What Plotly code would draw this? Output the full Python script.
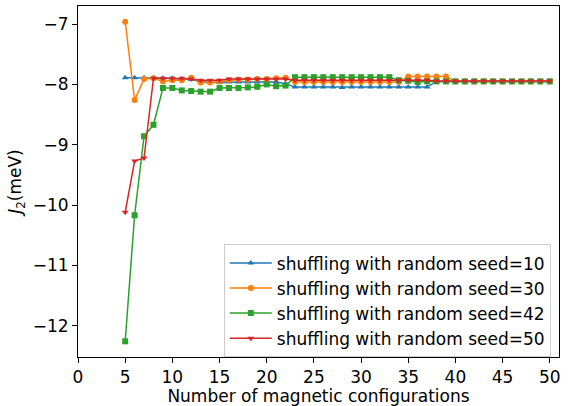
import plotly.graph_objects as go

x = list(range(5, 51))

seed10 = ([-7.89, -7.89, -7.89, -7.89, -7.90, -7.90, -7.91, -7.92, -7.95, -7.97,
           -7.97, -7.96, -7.96, -7.96, -7.96, -7.96, -7.96, -7.99]
          + [-8.045, -8.045, -8.045, -8.045, -8.045, -8.05, -8.045, -8.045, -8.045,
             -8.045, -8.045, -8.045, -8.045, -8.045, -8.045]
          + [-7.95] * 13)

seed30 = ([-6.96, -8.26, -7.91, -7.90, -7.95, -7.93, -7.93, -7.89, -7.97, -7.97,
           -7.95, -7.93, -7.92, -7.92, -7.91, -7.91, -7.90, -7.89]
          + [-7.96] * 12
          + [-7.87, -7.87, -7.87, -7.87, -7.87]
          + [-7.95] * 11)

seed42 = ([-12.26, -10.17, -8.86, -8.67, -8.06, -8.06, -8.10, -8.11, -8.12, -8.12,
           -8.06, -8.06, -8.06, -8.05, -8.04, -8.00, -8.03, -8.02]
          + [-7.88] * 11
          + [-7.93, -7.94, -7.96, -7.95]
          + [-7.95] * 13)

seed50 = ([-10.12, -9.27, -9.22, -7.90, -7.90, -7.90, -7.90, -7.91, -7.93, -7.93,
           -7.93, -7.91, -7.91, -7.91, -7.91, -7.91, -7.91, -7.91]
          + [-7.93] * 15
          + [-7.945] * 13)

names = ["shuffling with random seed=10", "shuffling with random seed=30",
         "shuffling with random seed=42", "shuffling with random seed=50"]
series = [seed10, seed30, seed42, seed50]
colors = ["#1f77b4", "#ff7f0e", "#2ca02c", "#d62728"]
symbols = ["triangle-up", "circle", "square", "triangle-down"]

xticks = list(range(0, 51, 5))
yticks = [-12, -11, -10, -9, -8, -7]

fig = go.Figure()
for name, ys, c, s in zip(names, series, colors, symbols):
    fig.add_trace(go.Scatter(
        x=x, y=ys, name=name, mode="lines+markers",
        line=dict(color=c, width=1.5),
        marker=dict(symbol=s, size=6, color=c),
    ))

font = dict(family="DejaVu Sans", size=17, color="black")
fig.update_layout(
    width=569, height=406,
    margin=dict(l=78, r=10, t=5, b=43),
    paper_bgcolor="white", plot_bgcolor="white",
    font=font,
    showlegend=True,
    legend=dict(
        x=0.983, y=0.321, xanchor="right", yanchor="top",
        bgcolor="rgba(255,255,255,0.8)", bordercolor="#cccccc", borderwidth=1,
        font=font, tracegroupgap=0, itemwidth=42,
    ),
    xaxis=dict(
        range=[0, 50.98], tickvals=xticks, ticktext=[str(v) for v in xticks],
        showgrid=False, zeroline=False, showline=True, linecolor="black",
        linewidth=1, mirror=True, ticks="outside", ticklen=5, tickcolor="black",
        title=dict(text="Number of magnetic configurations", standoff=2, font=font),
        tickfont=font,
    ),
    yaxis=dict(
        range=[-12.52, -6.70], tickvals=yticks,
        ticktext=["\u2212" + str(abs(v)) for v in yticks],
        showgrid=False, zeroline=False, showline=True, linecolor="black",
        linewidth=1, mirror=True, ticks="outside", ticklen=5, tickcolor="black",
        title=dict(text="<i>J</i><sub>2</sub>(meV)", standoff=6, font=font),
        tickfont=font,
    ),
)

fig.write_html("out.html")
